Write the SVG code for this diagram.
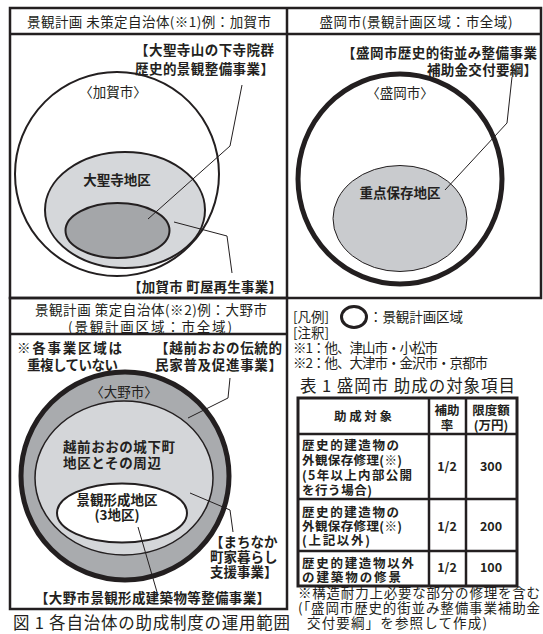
<svg xmlns="http://www.w3.org/2000/svg" width="543" height="634" viewBox="0 0 543 634">
<style>
text{font-family:"Noto Sans CJK JP","Noto Sans",sans-serif;fill:#231f20;font-size:13.5px}
.b{font-weight:bold}
.m{text-anchor:middle}
.e{text-anchor:end}
.frame{fill:none;stroke:#231f20;stroke-width:2.5}
.ln{fill:none;stroke:#231f20;stroke-width:1}
.cap{font-size:16.5px}
.tb{font-size:12.5px;font-weight:bold}
</style>
<rect width="543" height="634" fill="#fff"/>
<g id="frames">
<rect class="frame" x="10" y="8" width="531" height="290"/>
<line class="frame" x1="287" y1="8" x2="287" y2="298"/>
<line class="frame" x1="10" y1="34" x2="541" y2="34"/>
<rect class="frame" x="10" y="298" width="277" height="311"/>
<line class="frame" x1="10" y1="334" x2="287" y2="334"/>
</g>
<g id="kaga">
<text x="149" y="27" class="m" textLength="244">景観計画 未策定自治体(※1)例：加賀市</text>
<circle cx="117" cy="174" r="102" fill="#fff" stroke="#231f20" stroke-width="2"/>
<ellipse cx="125" cy="210" rx="80" ry="58" fill="#d5d7da" stroke="#231f20" stroke-width="2"/>
<ellipse cx="117.5" cy="230.5" rx="52" ry="27.5" fill="#a4a6a9" stroke="#231f20" stroke-width="2"/>
<text x="113" y="97" class="m">〈加賀市〉</text>
<text x="117" y="185" class="m b">大聖寺地区</text>
<text x="135" y="55" class="b" textLength="139">【大聖寺山の下寺院群</text>
<text x="135" y="74" class="b" textLength="139">歴史的景観整備事業】</text>
<text x="128" y="292" class="b" textLength="154">【加賀市 町屋再生事業】</text>
</g>
<g id="morioka">
<text x="416" y="27" class="m" textLength="193">盛岡市(景観計画区域：市全域)</text>
<ellipse cx="400" cy="179" rx="102" ry="105" fill="#fff" stroke="#231f20" stroke-width="5"/>
<ellipse cx="400" cy="218.5" rx="67" ry="53" fill="#c9cbce" stroke="#231f20" stroke-width="1"/>
<text x="400" y="98" class="m">〈盛岡市〉</text>
<text x="400" y="198" class="m b">重点保存地区</text>
<text x="537" y="58" class="e b" textLength="195">【盛岡市歴史的街並み整備事業</text>
<text x="537" y="75" class="e b" textLength="110">補助金交付要綱】</text>
</g>
<g id="ono">
<text x="151" y="315" class="m" textLength="232">景観計画 策定自治体(※2)例：大野市</text>
<text x="150" y="332" class="m" textLength="164">(景観計画区域：市全域)</text>
<circle cx="125" cy="476" r="104" fill="#a9abae" stroke="#231f20" stroke-width="5"/>
<ellipse cx="124" cy="478" rx="89" ry="77" fill="#d4d6d9" stroke="#231f20" stroke-width="1.5"/>
<ellipse cx="122" cy="513" rx="65" ry="29.5" fill="#fff" stroke="#231f20" stroke-width="2"/>
<text x="17" y="353" class="b" textLength="105">※各事業区域は</text>
<text x="27" y="370" class="b" textLength="91">重複していない</text>
<text x="155" y="353" class="b" textLength="127">【越前おおの伝統的</text>
<text x="155" y="370" class="b" textLength="127">民家普及促進事業】</text>
<text x="124" y="397" class="m">〈大野市〉</text>
<text x="63" y="452" class="b" textLength="112">越前おおの城下町</text>
<text x="63" y="468" class="b" textLength="98">地区とその周辺</text>
<text x="117" y="505" class="m b">景観形成地区</text>
<text x="117" y="520" class="m b">(3地区)</text>
<text x="210" y="547" class="b">【まちなか</text>
<text x="210" y="562" class="b">町家暮らし</text>
<text x="210" y="577" class="b">支援事業】</text>
<text x="35" y="603" class="b" textLength="235">【大野市景観形成建築物等整備事業】</text>
</g>
<g id="connectors">
<polyline class="ln" points="242,85 230,146 148,219"/>
<polyline class="ln" points="174,222 227,236 232,273"/>
<polyline class="ln" points="512,77 507,123 445,190"/>
<polyline class="ln" points="230,378 228,398 188,418"/>
<polyline class="ln" points="190,493 230,510 233,532"/>
<polyline class="ln" points="138,527 157,592"/>
</g>
<g id="legend">
<text x="293" y="322">[凡例]</text>
<ellipse cx="354" cy="317" rx="12.5" ry="10.5" fill="none" stroke="#231f20" stroke-width="3"/>
<text x="369" y="322" textLength="94">：景観計画区域</text>
<text x="293" y="338">[注釈]</text>
<text x="293" y="353" textLength="145">※1：他、津山市・小松市</text>
<text x="293" y="368" textLength="195">※2：他、大津市・金沢市・京都市</text>
</g>
<g id="table">
<text x="300" y="392" class="cap" textLength="215">表 1  盛岡市  助成の対象項目</text>
<rect x="298" y="398" width="219" height="188" fill="none" stroke="#231f20" stroke-width="3"/>
<line x1="429" y1="398" x2="429" y2="586" stroke="#231f20" stroke-width="2.5"/>
<line x1="466" y1="398" x2="466" y2="586" stroke="#231f20" stroke-width="2.5"/>
<line x1="298" y1="434" x2="517" y2="434" stroke="#231f20" stroke-width="2.5"/>
<line x1="298" y1="499" x2="517" y2="499" stroke="#231f20" stroke-width="2.5"/>
<line x1="298" y1="551" x2="517" y2="551" stroke="#231f20" stroke-width="2.5"/>
<text x="363" y="421" class="m tb" textLength="58">助成対象</text>
<text x="447" y="415" class="m tb">補助</text>
<text x="447" y="430" class="m tb">率</text>
<text x="491" y="415" class="m tb">限度額</text>
<text x="491" y="430" class="m tb">(万円)</text>
<text x="302" y="450" class="tb" textLength="97">歴史的建造物の</text>
<text x="302" y="465" class="tb" textLength="100">外観保存修理(※)</text>
<text x="302" y="480" class="tb" textLength="110">(5年以上内部公開</text>
<text x="302" y="495" class="tb" textLength="70">を行う場合)</text>
<text x="447" y="471" class="m tb">1/2</text>
<text x="491" y="471" class="m tb">300</text>
<text x="302" y="517" class="tb" textLength="97">歴史的建造物の</text>
<text x="302" y="531" class="tb" textLength="100">外観保存修理(※)</text>
<text x="302" y="545" class="tb" textLength="68">(上記以外)</text>
<text x="447" y="531" class="m tb">1/2</text>
<text x="491" y="531" class="m tb">200</text>
<text x="302" y="568" class="tb" textLength="112">歴史的建造物以外</text>
<text x="302" y="582" class="tb" textLength="99">の建築物の修景</text>
<text x="447" y="572" class="m tb">1/2</text>
<text x="491" y="572" class="m tb">100</text>
<text x="298" y="598" textLength="242">※構造耐力上必要な部分の修理を含む</text>
<text x="298" y="613" textLength="242">(「盛岡市歴史的街並み整備事業補助金</text>
<text x="307" y="628" textLength="180">交付要綱」を参照して作成)</text>
</g>
<text x="13" y="629" class="cap" textLength="277">図 1  各自治体の助成制度の運用範囲</text>
</svg>
